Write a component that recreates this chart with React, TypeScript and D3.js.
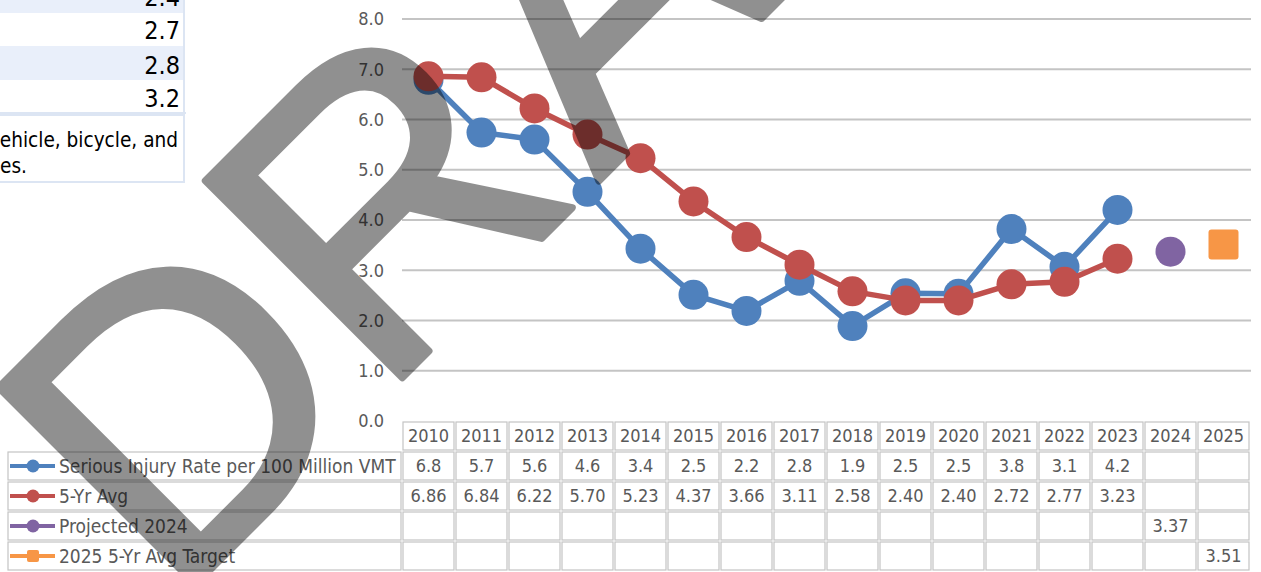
import React from "react";
import * as d3 from "d3";

const years = ["2010", "2011", "2012", "2013", "2014", "2015", "2016", "2017", "2018", "2019", "2020", "2021", "2022", "2023", "2024", "2025"];
const injuryRate = [6.79, 5.74, 5.6, 4.56, 3.43, 2.51, 2.19, 2.79, 1.89, 2.54, 2.53, 3.82, 3.07, 4.2];
const fiveYrAvg = [6.86, 6.84, 6.22, 5.7, 5.23, 4.37, 3.66, 3.11, 2.58, 2.4, 2.4, 2.72, 2.77, 3.23];
const projected = [{ year: "2024", value: 3.37 }];
const target = [{ year: "2025", value: 3.51 }];
const yTicks = [0, 1, 2, 3, 4, 5, 6, 7, 8];

// fragment of the table above/left of the chart
const fragValues = ["2.4", "2.7", "2.8", "3.2"];
const fragNote = ["ehicle, bicycle, and", "es."];

const W = 1261;
const H = 572;
const FONT = "'DejaVu Sans Condensed', 'DejaVu Sans', sans-serif";
const TEXT = "#595959";

const BLUE = "#4F81BD";
const RED = "#C0504D";
const PURPLE = "#8064A2";
const ORANGE = "#F79646";

export default function App() {
  const x = d3.scaleBand<string>().domain(years).range([402, 1250]);
  const y = d3.scaleLinear().domain([0, 8]).range([421, 19]);
  const cx = (yr: string) => (x(yr) ?? 0) + x.bandwidth() / 2;

  const line = d3
    .line<number>()
    .x((_, i) => cx(years[i]))
    .y((d) => y(d));

  const rows = [
    { name: "Serious Injury Rate per 100 Million VMT", color: BLUE, square: false, cells: years.map((_, i) => (injuryRate[i] != null ? injuryRate[i].toFixed(1) : "")) },
    { name: "5-Yr Avg", color: RED, square: false, cells: years.map((_, i) => (fiveYrAvg[i] != null ? fiveYrAvg[i].toFixed(2) : "")) },
    { name: "Projected 2024", color: PURPLE, square: false, cells: years.map((yr) => { const p = projected.find((d) => d.year === yr); return p ? p.value.toFixed(2) : ""; }) },
    { name: "2025 5-Yr Avg Target", color: ORANGE, square: true, cells: years.map((yr) => { const p = target.find((d) => d.year === yr); return p ? p.value.toFixed(2) : ""; }) },
  ];

  const headerTop = 421;
  const headerH = 30;
  const rowH = 30;
  const legendLeft = 7;

  return (
    <svg width={W} height={H} style={{ position: "absolute", left: 0, top: 0, background: "#fff" }} fontFamily={FONT}>
      {/* top-left table fragment */}
      <g>
        <rect x={0} y={0} width={184} height={13} fill="#E9EFFA" />
        <rect x={0} y={46} width={184} height={34} fill="#E9EFFA" />
        <line x1={184} x2={184} y1={0} y2={112} stroke="#DCE5F3" strokeWidth={2} />
        <line x1={0} x2={186} y1={113} y2={113} stroke="#DCE5F3" strokeWidth={2} />
        <rect x={-2} y={115} width={186} height={67} fill="none" stroke="#DCE5F3" strokeWidth={2} />
        {fragValues.map((v, i) => (
          <text key={v + i} x={180} y={6 + [0, 33, 68, 101][i]} textAnchor="end" fontSize={25} fill="#000">
            {v}
          </text>
        ))}
        {fragNote.map((t, i) => (
          <text key={t} x={i === 0 ? 178 : 0} y={147 + i * 26} textAnchor={i === 0 ? "end" : "start"} fontSize={20.6} fill="#000">
            {t}
          </text>
        ))}
      </g>

      {/* gridlines + y labels */}
      {yTicks.map((t) => (
        <g key={t}>
          {t > 0 && <line x1={402} x2={1251} y1={y(t)} y2={y(t)} stroke="#C4C4C4" strokeWidth={2} />}
          <text x={384} y={y(t)} dy="0.35em" textAnchor="end" fontSize={18} fill={TEXT}>
            {t.toFixed(1)}
          </text>
        </g>
      ))}

      {/* series */}
      <path d={line(injuryRate) ?? ""} fill="none" stroke={BLUE} strokeWidth={5.5} strokeLinejoin="round" />
      {injuryRate.map((v, i) => (
        <circle key={"b" + i} cx={cx(years[i])} cy={y(v)} r={15} fill={BLUE} />
      ))}
      <path d={line(fiveYrAvg) ?? ""} fill="none" stroke={RED} strokeWidth={5.5} strokeLinejoin="round" />
      {fiveYrAvg.map((v, i) => (
        <circle key={"r" + i} cx={cx(years[i])} cy={y(v)} r={15} fill={RED} />
      ))}
      {projected.map((d) => (
        <circle key={d.year} cx={cx(d.year)} cy={y(d.value)} r={15} fill={PURPLE} />
      ))}
      {target.map((d) => (
        <rect key={d.year} x={cx(d.year) - 15} y={y(d.value) - 15} width={30} height={30} rx={3} fill={ORANGE} />
      ))}

      {/* data table */}
      <g fontSize={18} fill={TEXT}>
        {years.map((yr) => (
          <g key={yr}>
            <rect x={(x(yr) ?? 0) + 1} y={headerTop + 1} width={x.bandwidth() - 2} height={headerH - 2} fill="none" stroke="#C4C4C4" strokeWidth={1.2} />
            <text x={cx(yr)} y={headerTop + headerH / 2} dy="0.36em" textAnchor="middle">
              {yr}
            </text>
          </g>
        ))}
        {rows.map((r, ri) => {
          const top = headerTop + headerH + ri * rowH;
          const mid = top + rowH / 2;
          return (
            <g key={r.name}>
              <rect x={legendLeft + 1} y={top + 1} width={402 - legendLeft - 2} height={rowH - 2} fill="none" stroke="#C4C4C4" strokeWidth={1.2} />
              <line x1={10} x2={55} y1={mid} y2={mid} stroke={r.color} strokeWidth={4} />
              {r.square ? (
                <rect x={27} y={mid - 6} width={12} height={12} rx={2} fill={r.color} />
              ) : (
                <circle cx={33} cy={mid} r={6.5} fill={r.color} />
              )}
              <text x={59} y={mid} dy="0.36em" fontSize={19}>
                {r.name}
              </text>
              {years.map((yr, i) => (
                <g key={yr}>
                  <rect x={(x(yr) ?? 0) + 1} y={top + 1} width={x.bandwidth() - 2} height={rowH - 2} fill="none" stroke="#C4C4C4" strokeWidth={1.2} />
                  <text x={cx(yr)} y={mid} dy="0.36em" textAnchor="middle">
                    {r.cells[i]}
                  </text>
                </g>
              ))}
            </g>
          );
        })}
      </g>

      {/* watermark */}
      <g opacity={0.43}>
        <text
          transform="translate(172,608) rotate(-45)"
          fontFamily="'Liberation Sans', Arial, sans-serif"
          fontSize={405}
          fill="#000"
          stroke="#000"
          strokeWidth={7}
          strokeLinejoin="round"
        >
          DR<tspan dx={18}>AFT</tspan>
        </text>
      </g>
    </svg>
  );
}
